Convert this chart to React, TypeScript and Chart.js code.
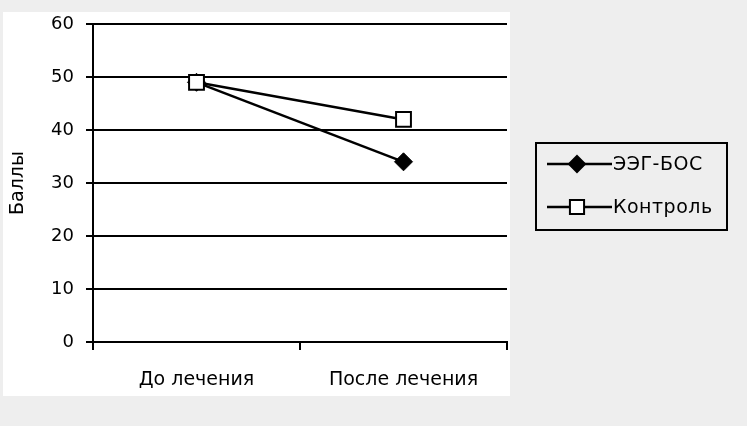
import React, { useEffect, useRef } from "react";
import { Chart, registerables } from "chart.js";

Chart.register(...registerables);

const categories = ["До лечения", "После лечения"];
const seriesNames = ["ЭЭГ-БОС", "Контроль"];
const eegValues = [49, 34];
const controlValues = [49, 42];
const yMin = 0;
const yMax = 60;
const yStep = 10;
const yTitle = "Баллы";

const FONT = "'DejaVu Sans', 'Liberation Sans', Arial, sans-serif";

const backgroundPlugin = {
  id: "bgPanel",
  beforeDraw(chart: any) {
    const { ctx, width, height, chartArea } = chart;
    ctx.save();
    ctx.fillStyle = "#eeeeee";
    ctx.fillRect(0, 0, width, height);
    ctx.fillStyle = "#ffffff";
    ctx.fillRect(3, 12, chartArea.right + 3 - 3, 396 - 12);
    ctx.restore();
  },
};

function drawMarker(ctx: CanvasRenderingContext2D, style: string, x: number, y: number, r: number, fill: string) {
  ctx.beginPath();
  if (style === "rectRot") {
    ctx.moveTo(x, y - r);
    ctx.lineTo(x + r, y);
    ctx.lineTo(x, y + r);
    ctx.lineTo(x - r, y);
    ctx.closePath();
  } else {
    const s = r * Math.SQRT1_2;
    ctx.rect(x - s, y - s, 2 * s, 2 * s);
  }
  ctx.fillStyle = fill;
  ctx.fill();
  ctx.stroke();
}

const legendPlugin = {
  id: "boxLegend",
  afterDraw(chart: any) {
    const { ctx, chartArea } = chart;
    const left = chartArea.right + 29;
    const top = 143;
    const w = 191;
    const h = 87;
    ctx.save();
    ctx.strokeStyle = "#000";
    ctx.lineWidth = 2;
    ctx.strokeRect(left, top, w, h);
    chart.data.datasets.forEach((ds: any, i: number) => {
      const y = top + 21 + i * 43;
      ctx.strokeStyle = "#000";
      ctx.lineWidth = 2.5;
      ctx.beginPath();
      ctx.moveTo(left + 11, y);
      ctx.lineTo(left + 76, y);
      ctx.stroke();
      ctx.lineWidth = 2;
      drawMarker(ctx, ds.pointStyle, left + 41, y, ds.legendRadius, ds.pointBackgroundColor);
      ctx.fillStyle = "#000";
      ctx.font = `19px ${FONT}`;
      (ctx as any).letterSpacing = "0.5px";
      ctx.textAlign = "left";
      ctx.textBaseline = "middle";
      ctx.fillText(ds.label, left + 77, y + 1);
      (ctx as any).letterSpacing = "0px";
    });
    ctx.restore();
  },
};

export default function App() {
  const ref = useRef<HTMLCanvasElement | null>(null);
  useEffect(() => {
    if (!ref.current) return;
    const chart = new Chart(ref.current, {
      type: "line",
      data: {
        labels: categories,
        datasets: [
          {
            label: seriesNames[0],
            data: eegValues,
            borderColor: "#000",
            borderWidth: 2.5,
            pointStyle: "rectRot",
            pointRadius: 9,
            pointBackgroundColor: "#000",
            pointBorderColor: "#000",
            pointBorderWidth: 1,
            order: 1,
            legendRadius: 8,
          } as any,
          {
            label: seriesNames[1],
            data: controlValues,
            borderColor: "#000",
            borderWidth: 2.5,
            pointStyle: "rect",
            pointRadius: 10.5,
            pointBackgroundColor: "#fff",
            pointBorderColor: "#000",
            pointBorderWidth: 2,
            order: 0,
            legendRadius: 10,
          } as any,
        ],
      },
      options: {
        responsive: false,
        animation: false,
        layout: { padding: { left: 0, top: 24, right: 240, bottom: 0 } },
        plugins: { legend: { display: false }, tooltip: { enabled: false } },
        scales: {
          x: {
            offset: true,
            grid: {
              offset: true,
              drawOnChartArea: false,
              drawTicks: true,
              tickLength: 8,
              color: "#000",
              lineWidth: 2,
            },
            border: { display: true, color: "#000", width: 2 },
            ticks: { color: "#000", font: { family: FONT, size: 19 }, padding: 19 },
            afterFit(scale: any) {
              scale.height = 84;
            },
          },
          y: {
            min: yMin,
            max: yMax,
            ticks: { stepSize: yStep, color: "#000", font: { family: FONT, size: 18 }, padding: 12 },
            grid: { color: "#000", lineWidth: 2, tickLength: 7, drawTicks: true },
            border: { display: true, color: "#000", width: 2 },
            title: {
              display: true,
              text: yTitle,
              color: "#000",
              font: { family: FONT, size: 19 },
              padding: { top: 7, bottom: 0 },
            },
            afterFit(scale: any) {
              scale.width = 93;
            },
          },
        },
      },
      plugins: [backgroundPlugin, legendPlugin],
    });
    return () => chart.destroy();
  }, []);
  return (
    <div style={{ position: "fixed", left: 0, top: 0, width: 747, height: 426 }}>
      <canvas ref={ref} width={747} height={426} style={{ display: "block" }} />
    </div>
  );
}
